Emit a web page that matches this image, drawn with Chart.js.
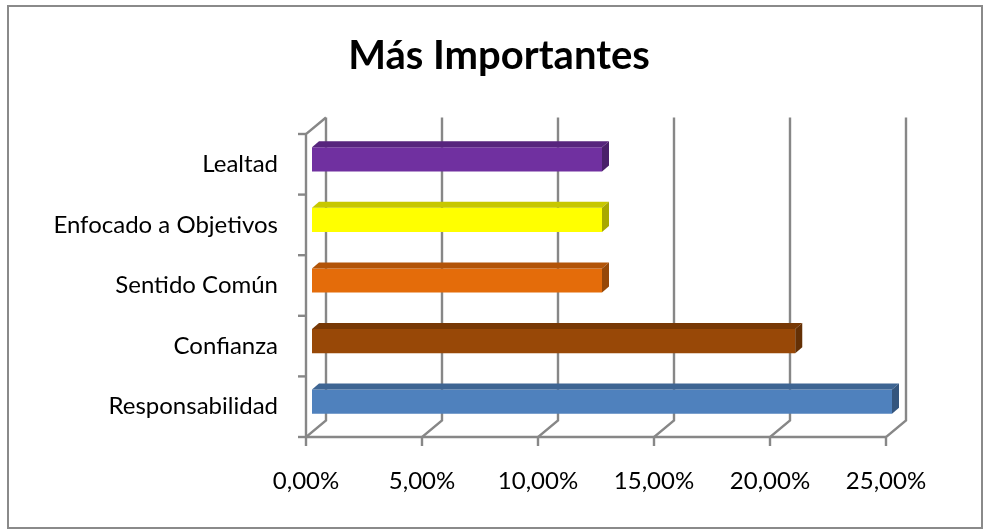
<!DOCTYPE html>
<html>
<head>
<meta charset="utf-8">
<script src="https://cdn.jsdelivr.net/npm/chart.js@4/dist/chart.umd.min.js"></script>
<style>
  html, body { margin: 0; padding: 0; background: #fff; }
  #wrap { width: 984px; height: 531px; }
</style>
</head>
<body>
<div id="wrap"><canvas id="chart" width="984" height="531"></canvas></div>
<script>
// data (top to bottom)
var categories = ['Lealtad', 'Enfocado a Objetivos', 'Sentido Común', 'Confianza', 'Responsabilidad'];
var values = [12.5, 12.5, 12.5, 20.83, 25];
var xTicks = [0, 5, 10, 15, 20, 25];

// front colours of the bars
var barColors = ['#7030A0', '#FFFF00', '#E46C0A', '#984807', '#4F81BD'];

var FONT = 'Lato, "Liberation Sans", sans-serif';
var GRID = '#878787';
// 3d offsets relative to the plane the bars sit on
var BACK = { x: 14, y: -11.5 };
var FRONT = { x: -6, y: 5 };
var DEPTH = { x: 7, y: -6 };

function shade(hex, f) {
    var n = parseInt(hex.slice(1), 16);
    var r = Math.round(((n >> 16) & 255) * f);
    var g = Math.round(((n >> 8) & 255) * f);
    var b = Math.round((n & 255) * f);
    return 'rgb(' + r + ',' + g + ',' + b + ')';
}

function fmt(v) {
    return v.toFixed(2).replace('.', ',') + '%';
}

var box3d = {
    id: 'box3d',
    beforeDraw: function (chart) {
        var ctx = chart.ctx;
        ctx.save();
        ctx.fillStyle = '#fff';
        ctx.fillRect(0, 0, chart.width, chart.height);
        ctx.strokeStyle = '#8a8a8a';
        ctx.lineWidth = 2;
        ctx.strokeRect(8, 6, 974, 522);
        ctx.restore();
    },
    beforeDatasetsDraw: function (chart) {
        var ctx = chart.ctx;
        var a = chart.chartArea;
        var xs = chart.scales.x;
        ctx.save();
        ctx.strokeStyle = GRID;
        ctx.lineWidth = 2.4;
        ctx.lineCap = 'butt';
        ctx.lineJoin = 'miter';
        // value gridlines on the back wall, running down the floor to the front
        xTicks.forEach(function (v) {
            var px = xs.getPixelForValue(v);
            ctx.beginPath();
            ctx.moveTo(px + BACK.x, a.top + BACK.y);
            ctx.lineTo(px + BACK.x, a.bottom + BACK.y);
            ctx.lineTo(px + FRONT.x, a.bottom + FRONT.y);
            ctx.lineTo(px + FRONT.x, a.bottom + FRONT.y + 9);
            ctx.stroke();
        });
        // front floor edge
        var x0 = xs.getPixelForValue(xTicks[0]);
        var x1 = xs.getPixelForValue(xTicks[xTicks.length - 1]);
        ctx.beginPath();
        ctx.moveTo(x0 + FRONT.x, a.bottom + FRONT.y);
        ctx.lineTo(x1 + FRONT.x, a.bottom + FRONT.y);
        ctx.stroke();
        // left wall front edge and its top
        ctx.beginPath();
        ctx.moveTo(x0 + BACK.x, a.top + BACK.y);
        ctx.lineTo(x0 + FRONT.x, a.top + FRONT.y);
        ctx.lineTo(x0 + FRONT.x, a.bottom + FRONT.y);
        ctx.stroke();
        // category tick marks
        var band = (a.bottom - a.top) / categories.length;
        for (var i = 0; i <= categories.length; i++) {
            var py = a.top + FRONT.y + i * band;
            ctx.beginPath();
            ctx.moveTo(x0 + FRONT.x - 8, py);
            ctx.lineTo(x0 + FRONT.x, py);
            ctx.stroke();
        }
        ctx.restore();
    },
    afterDatasetsDraw: function (chart) {
        var ctx = chart.ctx;
        var meta = chart.getDatasetMeta(0);
        ctx.save();
        meta.data.forEach(function (bar, i) {
            var p = bar.getProps(['x', 'y', 'base', 'height'], true);
            var top = p.y - p.height / 2;
            var bot = p.y + p.height / 2;
            var c = barColors[i];
            // top face
            ctx.fillStyle = shade(c, 0.78);
            ctx.beginPath();
            ctx.moveTo(p.base, top);
            ctx.lineTo(p.base + DEPTH.x, top + DEPTH.y);
            ctx.lineTo(p.x + DEPTH.x, top + DEPTH.y);
            ctx.lineTo(p.x, top);
            ctx.closePath();
            ctx.fill();
            // end face
            ctx.fillStyle = shade(c, 0.66);
            ctx.beginPath();
            ctx.moveTo(p.x, top);
            ctx.lineTo(p.x + DEPTH.x, top + DEPTH.y);
            ctx.lineTo(p.x + DEPTH.x, bot + DEPTH.y);
            ctx.lineTo(p.x, bot);
            ctx.closePath();
            ctx.fill();
        });
        ctx.restore();
    }
};

var ctx = document.getElementById('chart').getContext('2d');
var myChart = new Chart(ctx, {
    type: 'bar',
    data: {
        labels: categories,
        datasets: [{
            label: 'Más Importantes',
            data: values,
            backgroundColor: barColors,
            borderWidth: 0,
            barPercentage: 0.4,
            categoryPercentage: 1
        }]
    },
    options: {
        indexAxis: 'y',
        responsive: false,
        animation: false,
        layout: { padding: { left: 14, right: 0, top: 0, bottom: 0 } },
        plugins: {
            legend: { display: false },
            tooltip: { enabled: false },
            title: {
                display: true,
                text: 'Más Importantes',
                color: '#000',
                font: { family: FONT, size: 40, weight: 'bold', lineHeight: 1.2 },
                padding: { top: 32, bottom: 49 }
            }
        },
        scales: {
            x: {
                min: 0,
                max: 25,
                afterBuildTicks: function (scale) {
                    scale.ticks = xTicks.map(function (v) { return { value: v }; });
                },
                grid: { display: false, drawTicks: false },
                border: { display: false },
                ticks: {
                    color: '#000',
                    font: { family: FONT, size: 24 },
                    padding: 35,
                    labelOffset: -6,
                    maxRotation: 0,
                    callback: function (v) { return fmt(v); }
                },
                afterFit: function (scale) { scale.height = 99; }
            },
            y: {
                grid: { display: false, drawTicks: false },
                border: { display: false },
                ticks: {
                    color: '#000',
                    font: { family: FONT, size: 24 },
                    padding: 34,
                    labelOffset: 5
                },
                afterFit: function (scale) { scale.width = 298; }
            },
            // empty axis on the right that only reserves the margin
            spacer: {
                type: 'linear',
                axis: 'y',
                position: 'right',
                grid: { display: false, drawTicks: false },
                border: { display: false },
                ticks: { display: false },
                afterFit: function (scale) { scale.width = 92; }
            }
        }
    },
    plugins: [box3d]
});
</script>
</body>
</html>
